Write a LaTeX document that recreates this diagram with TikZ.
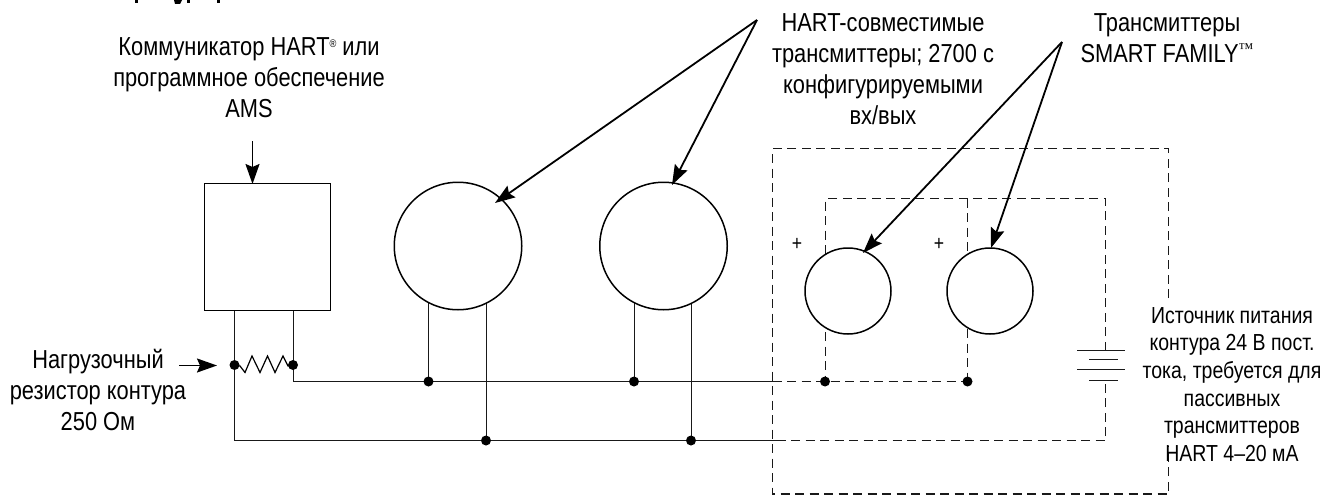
\documentclass[tikz,border=0pt]{standalone}
\usepackage{fontspec}
\setmainfont[FakeStretch=0.84]{Liberation Sans}
\newfontfamily\tmfont{Liberation Serif}
\usetikzlibrary{arrows.meta}
\newcommand{\regmark}{\raisebox{8pt}{\fontsize{11}{11}\selectfont ®}}
\newcommand{\tmmark}{\raisebox{9pt}{\tmfont\fontsize{15}{15}\selectfont ™}}
\tikzset{
  x=1pt,y=-1pt,
  wire/.style={line width=1.5pt,draw=black!90},
  dashwire/.style={line width=1.5pt,draw=black!90,dash pattern=on 9pt off 5.5pt},
  pointer/.style={line width=1.8pt,-{Stealth[length=20pt,width=14pt,inset=3pt]}},
  dot/.style={circle,fill=black,inner sep=0pt,minimum size=10pt},
  lbl/.style={align=center,font=\fontsize{26}{31}\selectfont,inner sep=0pt},
  lblb/.style={align=center,font=\fontsize{23.2}{27.7}\selectfont,inner sep=0pt},
  xmtr/.style={circle,draw=black,line width=1.5pt,inner sep=0pt,fill=white},
  pluslbl/.style={inner sep=0pt,font=\fontsize{21}{21}\selectfont},
}
\begin{document}
\begin{tikzpicture}
\useasboundingbox (0,0) rectangle (1325,495);
% remains of the cropped heading
\fill (135,0) rectangle (137.5,3);
\fill (174,0) -- (182,0) -- (180,4) -- (175,4) -- cycle;
\fill (187,0) rectangle (189.5,3);
\fill (217,0) rectangle (219.5,3);
% outer dashed frame (interrupted behind the supply label)
\coordinate (oa) at (772.5,148.5);\coordinate (ob) at (1168.5,148.5);\coordinate (oc) at (1168.5,494);\coordinate (od) at (772.5,494);
\coordinate (ogap1) at (1168.5,298);\coordinate (ogap2) at (1168.5,446);
\draw[dashwire] (ogap1)--(ob)--(oa)--(od)--(oc)--(ogap2);
% junctions and corners
\coordinate (r2) at (293.5,365);
\coordinate (r1) at (234.5,365);
\coordinate (busA) at (293.5,381.5);
\coordinate (busB) at (234.5,440.5);
\coordinate (jA) at (772.5,381.5);
\coordinate (jB) at (776.5,440.5);
\coordinate (ia) at (825.5,381.5);
\coordinate (ib) at (967.5,381.5);
\coordinate (batt) at (1105.5,440.5);
\coordinate (battT) at (1105.5,350.5);
\coordinate (battB) at (1105.5,380.5);
% stems (their upper ends are hidden by the circles)
\draw[wire] (428.5,260) -- (428.5,381.5);
\draw[wire] (486.5,260) -- (486.5,440.5);
\draw[wire] (634.5,260) -- (634.5,381.5);
\draw[wire] (691.5,260) -- (691.5,440.5);
% devices
\node[draw=black,line width=1.5pt,minimum width=126pt,minimum height=127pt,inner sep=0pt,fill=white] (comm) at (267.5,247) {};
\node[xmtr,minimum size=127.5pt] (c1) at (458,246) {};
\node[xmtr,minimum size=127.5pt] (c2) at (663.5,246) {};
% wiring
\draw[wire] (comm.south -| r1) -- (busB) -- (jB);
\draw[wire] (comm.south -| r2) -- (busA) -- (jA);
\draw[dashwire] (jA) -- (ib);
\draw[dashwire] (jB) -- (batt) -- (battB);
\draw[dashwire] (battT) -- (1105.5,198.5) -- (825.5,198.5) -- (ia);
\draw[dashwire] (967.5,198.5) -- (ib);
\node[xmtr,minimum size=86pt] (c3) at (848,291) {};
\node[xmtr,minimum size=86pt] (c4) at (990,291) {};
% resistor
\draw[line width=1.2pt] (r1) -- (240,366) -- (245,372.5) -- (252,356) -- (260,372.5) -- (267.5,356) -- (275,372.5) -- (283,356) -- (288,366) -- (r2);
% dots
\foreach \n/\p in {d1/{234.5,365},d2/{293,365},d3/{428.5,381.5},d4/{486,440.5},d5/{634,381.5},d6/{691,440.5},d7/{825,381.5},d8/{967.5,381.5}}
  \node[dot] (\n) at (\p) {};
% battery
\draw[wire] (1077,350.5)--(1125,350.5);
\draw[wire] (1089,359.5)--(1118,359.5);
\draw[wire] (1077,369.5)--(1125,369.5);
\draw[wire] (1089,380.5)--(1118,380.5);
% plus signs
\node[pluslbl] (p1) at (797,244) {+};
\node[pluslbl] (p2) at (939,244) {+};
% pointers
\coordinate (h1) at (757,20);
\coordinate (h2) at (1062,42);
\coordinate (ams) at (252.5,141);
\coordinate (rl) at (179,365.5);
\coordinate (rr) at (217,365.5);
\draw[pointer] (h1) -- (495,203);
\draw[pointer] (h1) -- (672,185);
\draw[pointer] (h2) -- (863,253);
\draw[pointer] (h2) -- (991,248);
\draw[pointer] (ams) -- (252.5,184);
\draw[pointer] (rl) -- (rr);
% labels
\node[lbl,anchor=north] (t1) at (249,37) {Коммуникатор HART\regmark{} или\\программное обеспечение\\AMS};
\node[lbl,anchor=north] (t2) at (883,13.5) {HART-совместимые\\трансмиттеры; 2700 с\\конфигурируемыми\\вх/вых};
\node[lbl,anchor=north] (t3) at (1167,13.5) {Трансмиттеры\\SMART FAMILY\tmmark};
\node[lbl,anchor=north] (t4) at (98,349) {Нагрузочный\\резистор контура\\250 Ом};
\node[lblb,anchor=north] (t5) at (1232,307) {Источник питания\\контура 24 В пост.\\тока, требуется для\\пассивных\\трансмиттеров\\HART 4–20 мА};
\end{tikzpicture}
\end{document}
